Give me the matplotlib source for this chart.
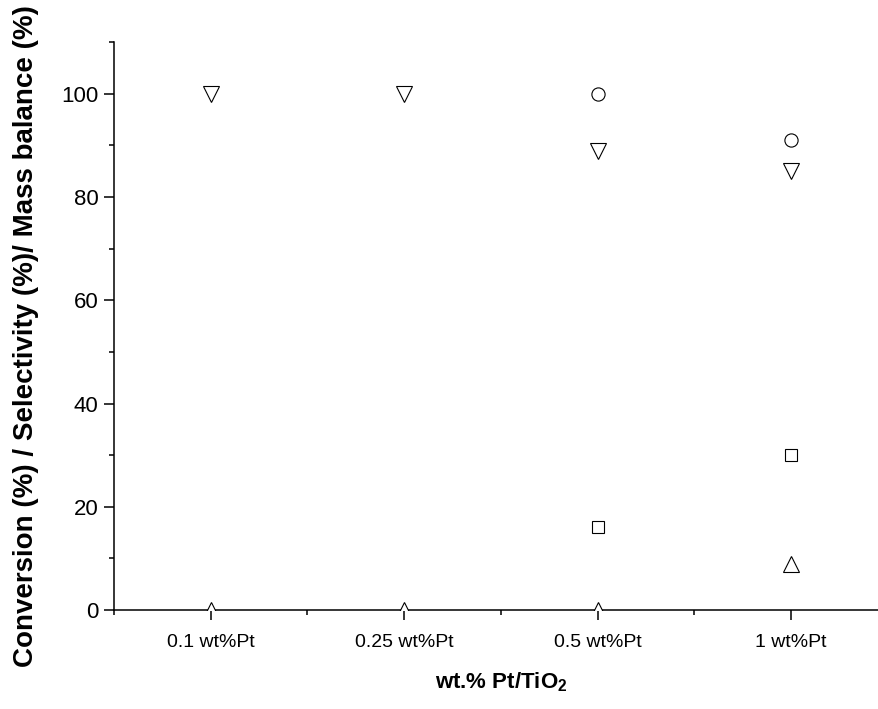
import numpy as np
import matplotlib.pyplot as plt
from matplotlib.ticker import MultipleLocator

# categorias y valores
categorias = ['0.1 wt%Pt', '0.25 wt%Pt', '0.5 wt%Pt', '1 wt%Pt']
conversion = [np.nan, np.nan, 16, 30]      # cuadrados
balance_masa = [np.nan, np.nan, 100, 91]   # circulos
selec_arriba = [0, 0, 0, 9]                # triangulos hacia arriba
selec_abajo = [100, 100, 89, 85]           # triangulos hacia abajo

plt.rcParams['font.family'] = ['Liberation Sans', 'DejaVu Sans']

fig = plt.figure(figsize=(8.79, 7.09), dpi=100)
ax = fig.add_axes([0.1297, 0.1396, 0.8805, 0.801])

x = np.arange(1, len(categorias) + 1)
estilo = dict(linestyle='none', markerfacecolor='white', markeredgecolor='black',
              markeredgewidth=0.8, zorder=3)
ax.plot(x, conversion, marker='s', markersize=9, **estilo)
ax.plot(x, balance_masa, marker='o', markersize=9.5, **estilo)
ax.plot(x, selec_arriba, marker='^', markersize=12, **estilo)
ax.plot(x, selec_abajo, marker='v', markersize=12, **estilo)

ax.set_xlim(0.5, 4.5)
ax.set_ylim(0, 110)
ax.set_xticks(x)
ax.set_xticklabels(categorias, fontsize=14)
ax.xaxis.set_minor_locator(MultipleLocator(0.5))
ax.yaxis.set_major_locator(MultipleLocator(20))
ax.yaxis.set_minor_locator(MultipleLocator(10))
ax.set_yticks([0, 20, 40, 60, 80, 100])
ax.tick_params(axis='y', labelsize=16)
ax.tick_params(which='major', direction='out', length=7, width=1.1, pad=4)
ax.tick_params(which='minor', direction='out', length=3.5, width=1.1)
ax.tick_params(axis='x', which='major', pad=10)

for lado in ['top', 'right']:
    ax.spines[lado].set_visible(False)
for lado in ['left', 'bottom']:
    ax.spines[lado].set_linewidth(1.1)

ax.set_xlabel('wt.% Pt/TiO$_\\mathregular{2}$', fontsize=16, fontweight='bold', labelpad=14)
ax.set_ylabel('Conversion (%) / Selectivity (%)/ Mass balance (%)', fontsize=20,
              fontweight='bold')
ax.yaxis.set_label_coords(-0.097, 0.482)

fig.savefig('out.png', dpi=100)
